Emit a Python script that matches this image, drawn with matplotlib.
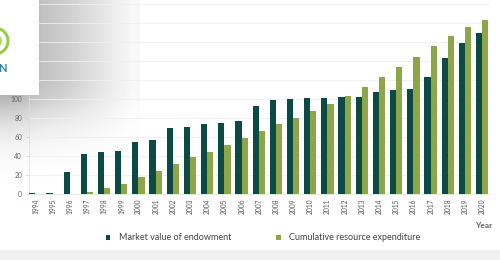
import numpy as np
import matplotlib.pyplot as plt
from matplotlib.patches import Rectangle, Ellipse

years = list(range(1994, 2021))
market_value = [1, 1.5, 23, 42, 44, 45.5, 55, 56.5, 69.5, 71, 73.5, 75, 77,
                92.5, 99, 100.5, 101.5, 101.5, 102.5, 102.5, 107.5, 109.5,
                111, 123.5, 143, 158.5, 170]
cumulative_spend = [0, 0, 0.5, 2, 6, 10.5, 17.5, 24.5, 32, 38.5, 44.5, 52, 59,
                    66, 73.5, 79.5, 87.5, 94.5, 103, 113, 123, 134, 144.5,
                    156, 166.5, 175.5, 183]
legend_labels = ['Market value of endowment', 'Cumulative resource expenditure']

dark = '#0e4a45'
green = '#8da64a'
W, H = 500, 260


def px(x, y):
    # pixel coords (top-left origin) -> figure fraction
    return x / W, 1 - y / H


fig = plt.figure(figsize=(5, 2.6), dpi=100)
fig.patch.set_facecolor('white')

# blurred grey shadow in the top-left corner
bg = fig.add_axes([0, 1 - 180 / H, 140 / W, 180 / H], zorder=0)
hx = np.linspace(0.34, 0.03, 8)
hx[:3] = [0.34, 0.30, 0.24]
vy = np.array([1, 1, 1, 1, 1, 1, 0.85, 0.55, 0.32, 0.16, 0.07, 0.02])
shade = 1 - np.outer(vy, hx)
bg.imshow(shade, cmap='gray', vmin=0, vmax=1, aspect='auto',
          interpolation='bilinear', extent=[0, 1, 0, 1])
bg.axis('off')

# light grey band at the bottom
fig.patches.append(Rectangle((0, 0), 1, 10 / H, transform=fig.transFigure,
                             facecolor='#f0f0f0', edgecolor='none', zorder=0))

l, b = px(29, 194)
r, t = px(490, 4)
ax = fig.add_axes([l, b, r - l, t - b], zorder=2)
ax.set_facecolor('none')

x = np.arange(len(years))
w = 0.36
ax.bar(x - 0.19, market_value, w, color=dark, label=legend_labels[0], zorder=3)
ax.bar(x + 0.17, cumulative_spend, w, color=green, label=legend_labels[1], zorder=3)

ax.set_xlim(-0.38, 26.45)
ax.set_ylim(0, 200)
ax.set_yticks(range(0, 201, 20))
ax.yaxis.grid(True, color='#efefef', lw=0.6, zorder=0)
ax.set_axisbelow(True)
ax.set_xticks(x)
ax.set_xticklabels([str(y) for y in years], rotation=90, fontsize=4.8,
                   color='#555555', family='Lato')
ax.tick_params(axis='x', length=0, pad=3)
ax.tick_params(axis='y', length=2, width=0.5, color='#cccccc', labelsize=4.8,
               labelcolor='#666666', pad=3)
for lab in ax.get_yticklabels():
    lab.set_family('Lato')
for s in ['top', 'right']:
    ax.spines[s].set_visible(False)
ax.spines['left'].set_color('#dddddd')
ax.spines['left'].set_linewidth(0.5)
ax.spines['bottom'].set_color('#dddddd')
ax.spines['bottom'].set_linewidth(0.5)

fig.text(*px(492, 225), 'Year', ha='right', va='center', fontsize=6,
         color='#666666', family='Lato', fontweight='bold')

fig.legend(loc='center', bbox_to_anchor=px(263, 238), ncol=2, frameon=False,
           prop={'family': 'Lato', 'size': 6.5}, labelcolor='#444444',
           handlelength=0.5, handleheight=0.5, handletextpad=0.9,
           columnspacing=5.0)

# logo box in the corner
fig.patches.append(Rectangle((0, 1 - 95 / H), 39 / W, 95 / H,
                             transform=fig.transFigure, facecolor='white',
                             edgecolor='none', zorder=5))
fig.patches.append(Ellipse(px(-5, 41), 26 / W, 26 / H, transform=fig.transFigure,
                           facecolor='none', edgecolor='#9ccb4a', lw=2.2,
                           zorder=6))
fig.patches.append(Ellipse(px(-5, 41), 14 / W, 14 / H, transform=fig.transFigure,
                           facecolor='#b4d66a', edgecolor='none', zorder=6))
fig.text(*px(7, 69), 'N', ha='right', va='center', fontsize=8,
         color='#2a8299', fontweight='bold', family='Lato', zorder=7)

fig.savefig('out.png', dpi=100)
